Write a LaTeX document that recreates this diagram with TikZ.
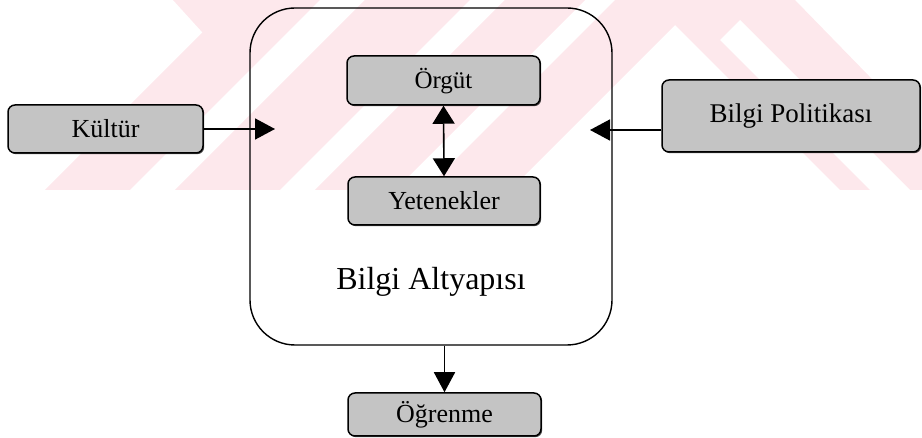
\documentclass[tikz,border=0pt]{standalone}
\usepackage{fontspec}
\setmainfont{Liberation Serif}
\usetikzlibrary{arrows.meta,calc,shadows}
\definecolor{wmpink}{RGB}{253,232,236}
\definecolor{boxgray}{RGB}{196,196,196}
\begin{document}
\begin{tikzpicture}[x=1pt,y=-1pt,
  graybox/.style={draw=black, line width=1.5pt, fill=boxgray, rounded corners=7pt,
    inner sep=0pt, font=\fontsize{26}{30}\selectfont,
    drop shadow={shadow xshift=1.2pt,shadow yshift=-1.2pt,fill=black,opacity=0.7}},
  conn/.style={line width=1.6pt, -{Triangle[length=20pt,width=21pt]}},
  bothconn/.style={line width=1.6pt, {Triangle[length=18pt,width=22pt]}-{Triangle[length=18pt,width=22pt]}},
]
\useasboundingbox (0,0) rectangle (922,438);

% faint striped background band
\begin{scope}
  \clip (0,0) rectangle (922,190);
  \fill[wmpink] (173,0) -- (202.5,32.5) -- (45,190) -- (130,190) -- (320,0) -- cycle;
  \fill[wmpink] (365,0) -- (175,190) -- (280,190) -- (470,0) -- cycle;
  \fill[wmpink] (505,0) -- (315,190) -- (395,190) -- (585,0) -- cycle;
  \fill[wmpink] (615,0) -- (425,190) -- (510,190) -- (675,25) -- (840,190) -- (980,190) -- (795,0) -- cycle;
  \fill[white] (720,40) -- (740,20) -- (910,190) -- (870,190) -- cycle;
\end{scope}

% the large rounded frame
\node[draw, line width=1.4pt, rounded corners=45pt, minimum width=362pt,
      minimum height=337pt, inner sep=0pt] (infra) at (431,176.5) {};
\node[font=\fontsize{32}{36}\selectfont, anchor=base] (title) at (431,290) {Bilgi Altyapısı};

% shaded boxes
\node[graybox, minimum width=195pt, minimum height=48pt] (kul) at (105.5,129) {Kültür};
\node[graybox, minimum width=193pt, minimum height=49pt, font=\fontsize{25}{29}\selectfont,
      text depth=4pt] (org) at (443.5,80.5) {Örgüt};
\node[graybox, minimum width=192pt, minimum height=48pt] (yet) at (444,201) {Yetenekler};
\node[graybox, minimum width=258pt, minimum height=72pt, font=\fontsize{27}{31}\selectfont,
      text depth=6pt] (pol) at (791,116) {Bilgi Politikası};
\node[graybox, minimum width=193pt, minimum height=43pt] (ogr) at (444.5,414.5) {Öğrenme};

% arrow tips inside the frame
\coordinate (kulin) at (275,129);
\coordinate (polin) at (590,130);

% connectors
\draw[conn] (kul.east) -- (kul.east -| kulin);
\draw[conn] (pol.west |- polin) -- (polin);
\draw[bothconn] (org.south) -- (yet.north);
\draw[conn] (ogr.north |- infra.south) -- (ogr.north);
\end{tikzpicture}
\end{document}
